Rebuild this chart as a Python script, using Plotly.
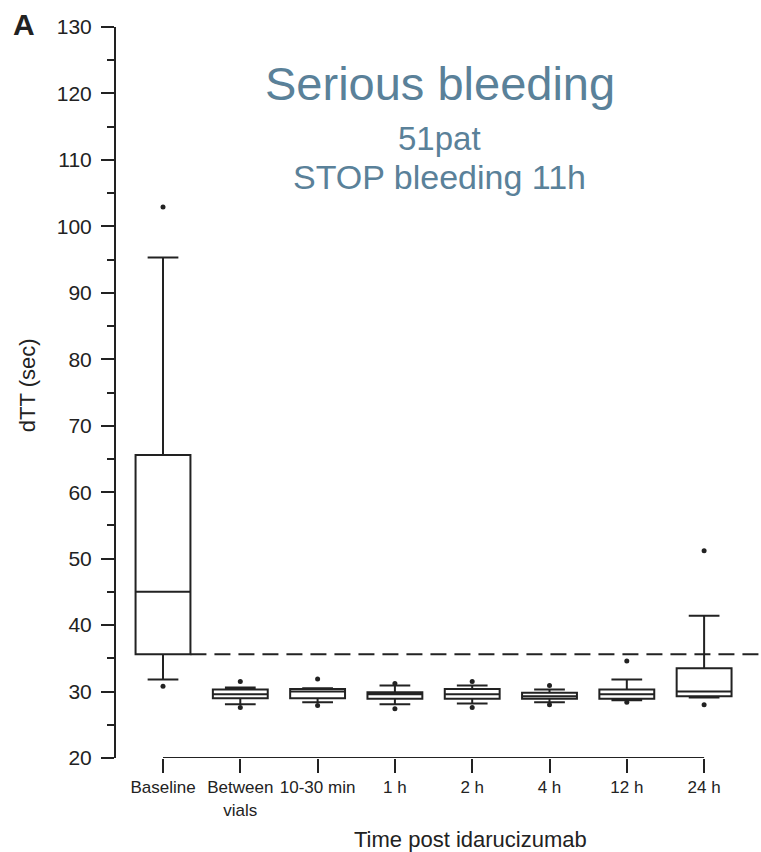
import plotly.graph_objects as go

# Time points after idarucizumab
categories = ["Baseline", "Between<br>vials", "10-30 min", "1 h", "2 h", "4 h", "12 h", "24 h"]

# dTT (sec) box statistics per time point
lower_whisker = [31.8, 28.1, 28.4, 28.1, 28.2, 28.4, 28.7, 29.1]
q1 = [35.6, 29.0, 29.0, 28.9, 28.9, 28.9, 28.9, 29.3]
median = [45.0, 29.6, 30.0, 29.6, 29.6, 29.3, 29.6, 30.0]
q3 = [65.6, 30.3, 30.4, 29.9, 30.4, 29.8, 30.3, 33.5]
upper_whisker = [95.3, 30.6, 30.5, 30.9, 30.9, 30.3, 31.8, 41.4]
outliers = [
    [102.9, 30.8],
    [31.5, 27.6],
    [31.9, 27.9],
    [31.2, 27.4],
    [31.5, 27.6],
    [30.9, 28.0],
    [34.6, 28.4],
    [51.2, 28.0],
]

# Upper limit of the normal dTT range
normal_limit = 35.6

ink = "#222222"
accent = "#5a8199"
font_family = "Liberation Sans, Arial, sans-serif"

fig = go.Figure()

fig.add_trace(go.Box(
    x=categories,
    q1=q1,
    median=median,
    q3=q3,
    lowerfence=lower_whisker,
    upperfence=upper_whisker,
    boxpoints=False,
    width=0.71,
    whiskerwidth=0.56,
    fillcolor="white",
    line=dict(color=ink, width=2),
    showlegend=False,
    hoverinfo="skip",
))

out_x = [c for c, vals in zip(categories, outliers) for _ in vals]
out_y = [v for vals in outliers for v in vals]
fig.add_trace(go.Scatter(
    x=out_x,
    y=out_y,
    mode="markers",
    marker=dict(color=ink, size=5, symbol="circle"),
    showlegend=False,
    hoverinfo="skip",
))

x_left, x_right = -0.608, 7.736

# Reference line for the upper normal limit
fig.add_shape(
    type="line", xref="x", yref="y",
    x0=0.355, x1=x_right, y0=normal_limit, y1=normal_limit,
    line=dict(color=ink, width=2, dash="16px,8px"),
    layer="below",
)

# Detached x axis line running from first to last category
fig.add_shape(
    type="line", xref="x", yref="y",
    x0=0, x1=len(categories) - 1, y0=20, y1=20,
    line=dict(color=ink, width=2),
)

fig.update_layout(
    width=761,
    height=852,
    margin=dict(l=116, r=0, t=27, b=94),
    paper_bgcolor="white",
    plot_bgcolor="white",
    font=dict(family=font_family, color=ink),
    xaxis=dict(
        type="category",
        categoryorder="array",
        categoryarray=categories,
        range=[x_left, x_right],
        showline=False,
        showgrid=False,
        zeroline=False,
        ticks="outside",
        ticklen=14,
        tickwidth=2,
        tickcolor=ink,
        tickfont=dict(size=17, color=ink, family=font_family),
    ),
    yaxis=dict(
        range=[20, 130],
        dtick=10,
        tick0=20,
        showline=True,
        linecolor=ink,
        linewidth=2,
        showgrid=False,
        zeroline=False,
        ticks="outside",
        ticklen=13,
        tickwidth=2,
        tickcolor=ink,
        tickfont=dict(size=21, color=ink, family=font_family),
        ticklabelstandoff=5,
        minor=dict(dtick=5, tick0=20, ticks="outside", ticklen=7, tickwidth=2, tickcolor=ink),
    ),
)

annotations = [
    dict(text="Serious bleeding", x=0.502, y=0.923, font=dict(size=47, color=accent)),
    dict(text="51pat", x=0.502, y=0.848, font=dict(size=33, color=accent)),
    dict(text="STOP bleeding 11h", x=0.502, y=0.795, font=dict(size=34, color=accent)),
    dict(text="<b>A</b>", x=-0.142, y=1.004, font=dict(size=30, color=ink)),
    dict(text="dTT (sec)", x=-0.138, y=0.51, textangle=-90, font=dict(size=22, color=ink)),
    dict(text="Time post idarucizumab", x=0.549, y=-0.111, font=dict(size=22, color=ink)),
]
for a in annotations:
    fig.add_annotation(
        xref="paper", yref="paper", showarrow=False,
        xanchor="center", yanchor="middle", **a,
    )

fig.write_html("out.html")
